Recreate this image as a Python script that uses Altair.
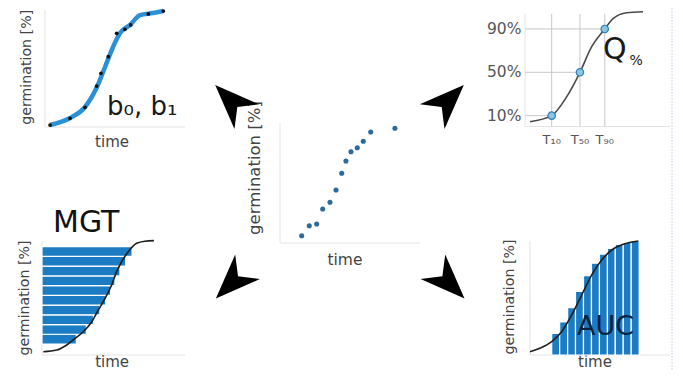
import altair as alt
import pandas as pd

FONT = "DejaVu Sans"
OFF = 8  # page margin

# ---------------- data (time 0-10, germination 0-100 %) ----------------
# top-left: fitted curve with observations (b0, b1)
tl_curve_t = [0.36, 1.79, 2.86, 3.71, 4.29, 4.86, 5.36, 6.07, 6.79, 7.71, 8.43]
tl_curve_g = [1.7, 7.7, 17.1, 34.2, 51.3, 68.4, 80.3, 87.2, 95.7, 97.4, 99.1]
tl_obs_t = [0.36, 1.79, 2.86, 3.69, 4.0, 4.52, 5.12, 5.71, 6.12, 7.38, 8.45]
tl_obs_g = [1.7, 7.4, 16.8, 35.0, 45.9, 60.1, 80.1, 83.5, 87.2, 96.6, 99.1]

# centre: raw observations
c_t = [1.55, 2.09, 2.62, 3.05, 3.57, 4.0, 4.41, 4.71, 5.07, 5.52, 5.95, 6.48, 8.21]
c_g = [6.1, 14.4, 15.8, 28.3, 33.9, 44.2, 58.1, 68.3, 76.1, 79.4, 84.8, 92.5, 95.6]

# top-right: quantiles
tr_curve_t = [0.34, 1.84, 2.88, 3.79, 4.6, 5.5, 6.09, 7.01, 8.14]
tr_curve_g = [4.4, 10.0, 27.5, 50.0, 73.6, 90.0, 99.8, 105.0, 105.9]
q_levels = [10, 50, 90]
q_times = [1.84, 3.79, 5.5]
q_level_labels = ["10%", "50%", "90%"]
q_time_labels = ["T₁₀", "T₅₀", "T₉₀"]

# bottom-left: MGT
bl_curve_t = [0.09, 1.03, 1.73, 2.31, 2.89, 3.48, 3.94, 4.41, 4.87, 5.22, 5.57, 6.03, 6.62, 7.2, 7.83]
bl_curve_g = [2.9, 4.4, 8.8, 14.6, 20.4, 29.2, 39.5, 49.7, 61.4, 73.1, 81.8, 90.6, 98.0, 99.8, 100.3]
mgt_low = [9.6, 18.2, 26.7, 35.2, 43.8, 52.3, 60.9, 69.4, 78.0, 86.5]
mgt_high = [18.2, 26.7, 35.2, 43.8, 52.3, 60.9, 69.4, 78.0, 86.5, 95.0]
mgt_time = [2.4, 3.1, 3.6, 4.05, 4.45, 4.8, 5.1, 5.45, 5.85, 6.3]

# bottom-right: AUC
br_curve_t = [0.0, 0.71, 1.55, 2.26, 2.98, 3.69, 4.41, 5.12, 5.84, 6.66, 7.74]
br_curve_g = [2.9, 5.9, 11.7, 20.4, 35.1, 52.6, 70.2, 83.3, 92.1, 97.1, 100.0]
auc_left = [1.55, 2.12, 2.69, 3.25, 3.82, 4.39, 4.96, 5.53, 6.09, 6.66, 7.23]
auc_right = [2.12, 2.69, 3.25, 3.82, 4.39, 4.96, 5.53, 6.09, 6.66, 7.23, 7.8]
auc_top = [19.0, 29.0, 41.5, 55.8, 69.7, 80.5, 88.5, 93.5, 97.0, 98.8, 100.0]

# arrows (in centre-panel units) and their directions
arrow_t = [-3.5, 12.0, -3.45, 12.05]
arrow_g = [118.5, 118.5, -33.0, -33.0]
arrow_angle = [225, 315, 135, 45]

# ---------------- layout: page-pixel box of each panel (left, right, bottom(0%), top(100%)) ----------------
BOX = {
    "tl": (45, 185, 127, 10),
    "tr": (525, 670, 126.5, 18.1),
    "c": (280, 420, 243, 123),
    "bl": (42, 185, 355, 241),
    "br": (530, 670, 355, 241),
}


def scales(p):
    l, r, b, t = BOX[p]
    xs = alt.Scale(domain=[0, 10], range=[l - OFF, r - OFF], nice=False, zero=False)
    ys = alt.Scale(domain=[0, 100], range=[b - OFF, t - OFF], nice=False, zero=False)
    return xs, ys


def base(p, df, xf="t", yf="g"):
    xs, ys = scales(p)
    return alt.Chart(df).encode(
        x=alt.X(f"{xf}:Q", scale=xs, axis=None),
        y=alt.Y(f"{yf}:Q", scale=ys, axis=None),
    )


def rules(p, t, g, t2, g2, color, width=1, **kw):
    df = pd.DataFrame({"t": t, "g": g, "t2": t2, "g2": g2})
    return base(p, df).mark_rule(color=color, strokeWidth=width, **kw).encode(
        x2=alt.X2("t2"), y2=alt.Y2("g2"))


def texts(p, t, g, labels, size, color="#444444", **kw):
    df = pd.DataFrame({"t": t, "g": g, "label": labels})
    return base(p, df).mark_text(font=FONT, fontSize=size, color=color, **kw).encode(
        text="label:N")


AXIS = "#e3e3e3"
GRID = "#c8c8c8"
BLUE = "#1b7cc4"
LBL = 14.2

layers = []

# slide guide (dotted)
layers.append(rules("tr", [10.14], [109.0], [10.14], [-226.0], "#a8a8e0", 1, strokeDash=[1, 2]))

# axes lines
layers.append(rules("tl", [0, 0], [0, 0], [10, 0], [0, 100], AXIS))
layers.append(rules("c", [0, 0], [0, 0], [10, 0], [0, 100], AXIS))
layers.append(rules("bl", [0, 0], [0, 0], [10, 0], [0, 100], AXIS))
layers.append(rules("br", [0, 0], [0, 0], [10, 0], [0, 100], AXIS))
layers.append(rules("tr", [0, 0], [0, 0], [10, 0], [0, 104], AXIS))

# quantile grid
layers.append(rules("tr", q_times, [0, 0, 0], q_times, [104, 104, 104], GRID))
layers.append(rules("tr", [0, 0, 0], q_levels, q_times, q_levels, GRID))

# axis titles
layers.append(texts("tl", [-1.29], [51], ["germination [%]"], LBL, angle=270, baseline="middle"))
layers.append(texts("tl", [4.79], [-12.8], ["time"], 15, baseline="middle"))
layers.append(texts("c", [-1.79], [62.5], ["germination [%]"], 16.5, angle=270, baseline="middle"))
layers.append(texts("c", [4.64], [-14.2], ["time"], 15.5, baseline="middle"))
layers.append(texts("bl", [-1.19], [50], ["germination [%]"], LBL, angle=270, baseline="middle"))
layers.append(texts("bl", [4.9], [-6.0], ["time"], 15, baseline="middle"))
layers.append(texts("br", [-1.43], [50.9], ["germination [%]"], LBL, angle=270, baseline="middle"))
layers.append(texts("br", [4.64], [-6.0], ["time"], 15, baseline="middle"))
layers.append(texts("tr", [-0.25] * 3, q_levels, q_level_labels, 15.5, color="#555555",
                    align="right", baseline="middle"))
layers.append(texts("tr", q_times, [-12.5] * 3, q_time_labels, 13, color="#555555", baseline="middle"))

# MGT bars
mgt_df = pd.DataFrame({"t": [0] * len(mgt_time), "t2": mgt_time, "g": mgt_low, "g2": mgt_high})
layers.append(base("bl", mgt_df).mark_rect(color=BLUE, stroke="white", strokeWidth=1.2).encode(
    x2=alt.X2("t2"), y2=alt.Y2("g2")))

# AUC bars
auc_df = pd.DataFrame({"t": auc_left, "t2": auc_right, "g": [0] * len(auc_top), "g2": auc_top})
layers.append(base("br", auc_df).mark_rect(color=BLUE, stroke="white", strokeWidth=1.2).encode(
    x2=alt.X2("t2"), y2=alt.Y2("g2")))

# curves
layers.append(base("tl", pd.DataFrame({"t": tl_curve_t, "g": tl_curve_g})).mark_line(
    color="#2a90d8", strokeWidth=4.5, interpolate="monotone"))
layers.append(base("tl", pd.DataFrame({"t": tl_obs_t, "g": tl_obs_g})).mark_circle(
    color="#111111", size=14, opacity=1))
layers.append(base("tr", pd.DataFrame({"t": tr_curve_t, "g": tr_curve_g})).mark_line(
    color="#4a4a4a", strokeWidth=1.6, interpolate="monotone"))
layers.append(base("tr", pd.DataFrame({"t": q_times, "g": q_levels})).mark_point(
    filled=True, fill="#8cc4e4", stroke="#2f7fb8", strokeWidth=1.2, size=55, opacity=1))
layers.append(base("bl", pd.DataFrame({"t": bl_curve_t, "g": bl_curve_g})).mark_line(
    color="#1e1e1e", strokeWidth=1.6, interpolate="monotone"))
layers.append(base("br", pd.DataFrame({"t": br_curve_t, "g": br_curve_g})).mark_line(
    color="#1e1e1e", strokeWidth=1.6, interpolate="monotone"))
layers.append(base("c", pd.DataFrame({"t": c_t, "g": c_g})).mark_circle(
    color="#2a6a9c", size=26, opacity=1))

# big labels
layers.append(texts("tl", [4.43], [10.3], ["b₀, b₁"], 26, color="#1a1a1a", align="left", baseline="alphabetic"))
layers.append(texts("tr", [5.38], [62.3], ["Q"], 30, color="#1a1a1a", align="left", baseline="alphabetic"))
layers.append(texts("tr", [7.2], [57.0], ["%"], 14, color="#1a1a1a", align="left", baseline="alphabetic"))
layers.append(texts("bl", [0.77], [107.9], ["MGT"], 30, color="#111111", align="left", baseline="alphabetic"))
layers.append(texts("br", [3.36], [17.5], ["AUC"], 27, color="#0c2340", align="left", baseline="alphabetic"))

# arrows
arrow_df = pd.DataFrame({"t": arrow_t, "g": arrow_g, "a": arrow_angle})
layers.append(base("c", arrow_df).mark_point(
    shape="M1,0L-1,-0.78L-0.4,0L-1,0.78Z", filled=True, color="black", size=2000, opacity=1
).encode(angle=alt.Angle("a:Q", scale=None)))

chart = alt.layer(*layers).resolve_scale(x="independent", y="independent").properties(
    width=667, height=363, padding=0,
    autosize=alt.AutoSizeParams(type="none"),
    background="white",
).configure_view(stroke=None)

chart.save("out.html", embed_options={"renderer": "svg", "actions": False})
